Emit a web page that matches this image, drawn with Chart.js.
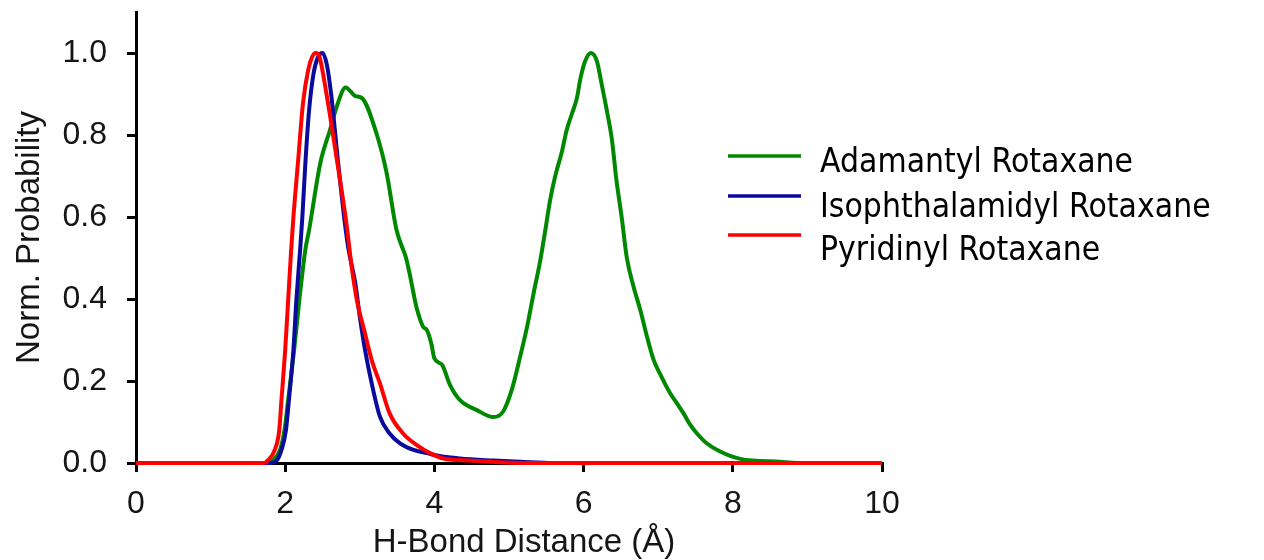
<!DOCTYPE html>
<html>
<head>
<meta charset="utf-8">
<script src="https://cdn.jsdelivr.net/npm/chart.js@4.4.1/dist/chart.umd.min.js"></script>
<style>
  html, body { margin: 0; padding: 0; background: #ffffff; }
  #wrap { width: 1264px; height: 560px; }
</style>
</head>
<body>
<div id="wrap"><canvas id="c" width="1264" height="560"></canvas></div>
<script>
// ---- data ----
const seriesLabels = ["Adamantyl Rotaxane", "Isophthalamidyl Rotaxane", "Pyridinyl Rotaxane"];
const seriesColors = ["#008800", "#0a0a9c", "#ff0000"];

const xAdamantyl = [0, 1.75, 1.84, 1.93, 1.99, 2.04, 2.12, 2.19, 2.27, 2.32, 2.47, 2.60, 2.69, 2.81, 2.94, 3.03, 3.23, 3.36, 3.49, 3.56, 3.62, 3.67, 3.72, 3.76, 3.85, 3.90, 3.96, 4.00, 4.10, 4.21, 4.34, 4.57, 4.79, 4.92, 5.04, 5.15, 5.24, 5.33, 5.42, 5.48, 5.55, 5.62, 5.71, 5.77, 5.84, 5.91, 5.96, 6.02, 6.10, 6.18, 6.24, 6.31, 6.38, 6.44, 6.51, 6.58, 6.67, 6.76, 6.85, 6.94, 7.02, 7.16, 7.25, 7.34, 7.43, 7.52, 7.65, 7.83, 8.10, 8.63, 9.00, 10];
const yAdamantyl = [0, 0, 0.007, 0.032, 0.08, 0.154, 0.276, 0.398, 0.52, 0.568, 0.731, 0.812, 0.869, 0.916, 0.895, 0.89, 0.80, 0.707, 0.57, 0.53, 0.50, 0.46, 0.414, 0.38, 0.332, 0.324, 0.29, 0.255, 0.24, 0.19, 0.154, 0.129, 0.112, 0.125, 0.18, 0.26, 0.33, 0.414, 0.495, 0.56, 0.64, 0.70, 0.76, 0.81, 0.85, 0.89, 0.94, 0.98, 1.0, 0.979, 0.926, 0.861, 0.788, 0.69, 0.60, 0.50, 0.43, 0.373, 0.308, 0.251, 0.219, 0.17, 0.146, 0.121, 0.093, 0.072, 0.048, 0.028, 0.01, 0.003, 0, 0];

const xIsophthalamidyl = [0, 1.80, 1.89, 1.95, 2.01, 2.05, 2.11, 2.15, 2.20, 2.23, 2.27, 2.32, 2.38, 2.44, 2.50, 2.56, 2.62, 2.71, 2.80, 2.85, 2.94, 3.00, 3.07, 3.16, 3.27, 3.40, 3.54, 3.72, 3.90, 4.07, 4.34, 4.79, 5.15, 5.60, 10];
const yIsophthalamidyl = [0, 0, 0.007, 0.032, 0.08, 0.154, 0.276, 0.398, 0.52, 0.60, 0.73, 0.86, 0.95, 0.99, 1.0, 0.97, 0.893, 0.731, 0.585, 0.52, 0.438, 0.357, 0.276, 0.194, 0.113, 0.072, 0.048, 0.032, 0.024, 0.017, 0.011, 0.006, 0.003, 0, 0];

const xPyridinyl = [0, 1.72, 1.77, 1.86, 1.92, 1.95, 2.00, 2.04, 2.08, 2.11, 2.17, 2.24, 2.31, 2.36, 2.41, 2.46, 2.56, 2.70, 2.82, 2.89, 2.96, 3.07, 3.16, 3.27, 3.40, 3.58, 3.76, 3.94, 4.12, 4.48, 5.15, 10];
const yPyridinyl = [0, 0, 0.007, 0.032, 0.08, 0.154, 0.276, 0.398, 0.52, 0.60, 0.73, 0.88, 0.96, 0.99, 1.0, 0.99, 0.893, 0.731, 0.585, 0.48, 0.398, 0.316, 0.251, 0.194, 0.121, 0.072, 0.044, 0.024, 0.011, 0.006, 0, 0];

const xTicks = [0, 2, 4, 6, 8, 10];
const yTicks = [0.0, 0.2, 0.4, 0.6, 0.8, 1.0];
const xTitle = "H-Bond Distance (Å)";
const yTitle = "Norm. Probability";

// ---- build chart ----
const pts = (xs, ys) => xs.map((x, i) => ({ x: x, y: ys[i] }));
const seriesX = [xAdamantyl, xIsophthalamidyl, xPyridinyl];
const seriesY = [yAdamantyl, yIsophthalamidyl, yPyridinyl];

const datasets = seriesLabels.map((lab, i) => ({
  label: lab,
  data: pts(seriesX[i], seriesY[i]),
  borderColor: seriesColors[i],
  backgroundColor: seriesColors[i],
  borderWidth: 4,
  pointRadius: 0,
  fill: false,
  cubicInterpolationMode: 'monotone',
  clip: 6,
  order: 3 - i
}));

const tickFont = { family: "'Liberation Sans', Arial, sans-serif", size: 32 };
const titleFont = { family: "'Liberation Sans', Arial, sans-serif", size: 33 };
const textColor = '#151515';

// legend at the right (overlapping the empty upper-right of the plot) + x-axis title
const legendPlugin = {
  id: 'sideLegend',
  afterDraw(chart) {
    const ctx = chart.ctx;
    ctx.save();
    const lineY = [156, 196, 235];
    const textY = [172, 216.5, 260];
    chart.data.datasets.forEach((ds, i) => {
      ctx.strokeStyle = ds.borderColor;
      ctx.lineWidth = 3.5;
      ctx.lineCap = 'butt';
      ctx.beginPath();
      ctx.moveTo(728, lineY[i]);
      ctx.lineTo(801, lineY[i]);
      ctx.stroke();
      ctx.save();
      ctx.translate(820, textY[i]);
      ctx.scale(1, 1.13);
      ctx.fillStyle = '#000000';
      ctx.font = "30px 'DejaVu Sans', sans-serif";
      ctx.textAlign = 'left';
      ctx.textBaseline = 'alphabetic';
      ctx.fillText(ds.label, 0, 0);
      ctx.restore();
    });
    // x-axis title (slightly right of the axis centre, as in the original)
    ctx.fillStyle = textColor;
    ctx.font = "33px 'Liberation Sans', Arial, sans-serif";
    ctx.textAlign = 'center';
    ctx.textBaseline = 'middle';
    ctx.fillText(xTitle, 524, 542.5);
    ctx.restore();
  }
};

new Chart(document.getElementById('c'), {
  type: 'line',
  data: { datasets: datasets },
  plugins: [legendPlugin],
  options: {
    responsive: false,
    animation: false,
    devicePixelRatio: 1,
    layout: { padding: { left: 0, right: 382, top: 12, bottom: 0 } },
    plugins: { legend: { display: false }, tooltip: { enabled: false } },
    scales: {
      x: {
        type: 'linear',
        min: 0, max: 10,
        afterBuildTicks: s => { s.ticks = xTicks.map(v => ({ value: v })); },
        afterFit: s => { s.height = 97; s.paddingLeft = 0; s.paddingRight = 0; },
        grid: { display: true, drawOnChartArea: false, drawTicks: true, tickLength: 9, color: '#000', lineWidth: 3 },
        border: { display: true, color: '#000', width: 3 },
        ticks: { font: tickFont, color: textColor, padding: 13, maxRotation: 0, callback: v => String(v) },
        title: { display: false, text: xTitle }
      },
      y: {
        type: 'linear',
        min: 0, max: 1.1,
        afterBuildTicks: s => { s.ticks = yTicks.map(v => ({ value: v })); },
        afterFit: s => { s.width = 136; s.paddingTop = 0; s.paddingBottom = 0; },
        grid: { display: true, drawOnChartArea: false, drawTicks: true, tickLength: 9, color: '#000', lineWidth: 3 },
        border: { display: true, color: '#000', width: 3 },
        ticks: { font: tickFont, color: textColor, padding: 20, callback: v => v.toFixed(1) },
        title: { display: true, text: yTitle, font: titleFont, color: textColor, padding: { top: 10, bottom: 0 } }
      }
    }
  }
});
</script>
</body>
</html>
